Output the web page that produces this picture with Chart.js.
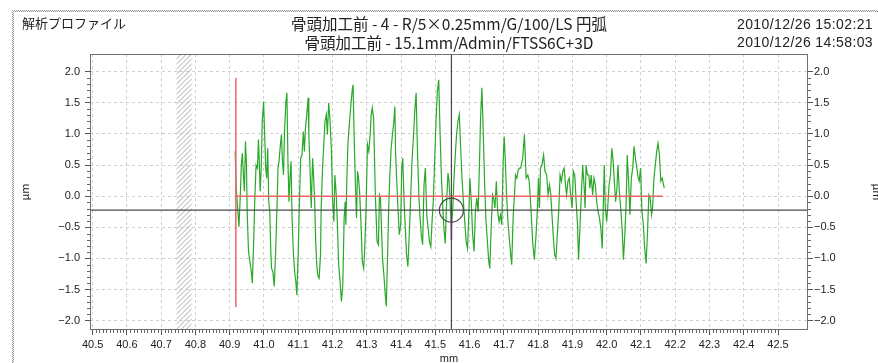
<!DOCTYPE html>
<html>
<head>
<meta charset="utf-8">
<script src="https://cdn.jsdelivr.net/npm/chart.js@4.4.1/dist/chart.umd.min.js"></script>
<style>
  html, body { margin: 0; padding: 0; background: #fff; }
  #wrap { position: relative; width: 878px; height: 363px; overflow: hidden; }
  #c { position: absolute; left: 0; top: 0; }
  .hd { position: absolute; white-space: nowrap; color: #222; line-height: 1; }
  .jp { font-family: "Noto Sans CJK JP", sans-serif; }
  .num { font-family: "Liberation Sans", Arial, sans-serif; }
</style>
</head>
<body>
<div id="wrap">
  <canvas id="c" width="878" height="363"></canvas>
  <div class="hd jp" style="left:22px; top:16px; font-size:13px;">解析プロファイル</div>
  <div class="hd jp" style="left:90px; width:718px; text-align:center; top:16px; font-size:15.5px;">骨頭加工前 - 4 - R/5×0.25mm/G/100/LS 円弧</div>
  <div class="hd jp" style="left:90px; width:718px; text-align:center; top:35px; font-size:15.5px;">骨頭加工前 - 15.1mm/Admin/FTSS6C+3D</div>
  <div class="hd num" style="left:737px; top:17px; font-size:14px; letter-spacing:0.4px;">2010/12/26 15:02:21</div>
  <div class="hd num" style="left:737px; top:35px; font-size:14px; letter-spacing:0.4px;">2010/12/26 14:58:03</div>
</div>
<script>
// Measured roughness profile (position in mm, height in µm)
const profileX = [
  40.916,40.919,40.924,40.927,40.931,40.934,40.937,40.940,40.943,40.946,
  40.949,40.951,40.955,40.959,40.963,40.966,40.970,40.973,40.977,40.981,
  40.984,40.986,40.989,40.992,40.995,40.999,41.002,41.005,41.008,41.011,
  41.014,41.017,41.020,41.022,41.026,41.030,41.034,41.038,41.041,41.044,
  41.048,41.051,41.054,41.057,41.060,41.064,41.067,41.070,41.073,41.076,
  41.079,41.082,41.086,41.090,41.093,41.096,41.100,41.103,41.107,41.111,
  41.115,41.118,41.121,41.125,41.129,41.131,41.135,41.138,41.142,41.145,
  41.148,41.151,41.154,41.157,41.161,41.165,41.167,41.171,41.174,41.178,
  41.182,41.185,41.189,41.193,41.197,41.200,41.204,41.207,41.211,41.214,
  41.218,41.222,41.226,41.230,41.234,41.237,41.239,41.242,41.245,41.249,
  41.253,41.257,41.260,41.263,41.267,41.270,41.273,41.276,41.279,41.283,
  41.287,41.291,41.294,41.298,41.302,41.306,41.310,41.313,41.316,
  41.320,41.325,41.330,41.334,41.337,41.340,41.343,41.346,41.350,41.354,
  41.357,41.361,41.364,41.367,41.371,41.375,41.379,41.382,41.384,41.388,
  41.391,41.395,41.399,41.402,41.405,41.409,41.413,41.416,41.420,41.424,
  41.428,41.432,41.436,41.440,41.444,41.448,41.452,41.455,41.459,41.463,
  41.467,41.471,41.475,41.479,41.483,41.487,41.490,41.494,41.498,41.502,
  41.506,41.510,41.514,41.518,41.522,41.525,41.529,41.533,41.537,41.540,
  41.543,41.547,41.551,41.555,41.559,41.562,41.566,41.570,41.574,41.578,
  41.582,41.586,41.590,41.594,41.597,41.601,41.605,41.609,41.613,41.617,
  41.621,41.625,41.629,41.632,41.636,41.640,41.644,41.648,41.652,41.656,
  41.659,41.663,41.667,41.670,41.674,41.678,41.682,41.686,41.690,41.694,
  41.698,41.701,41.704,41.708,41.712,41.716,41.720,41.723,41.727,41.731,
  41.734,41.738,41.741,41.745,41.749,
  41.755,41.760,41.765,41.770,41.774,41.779,41.784,41.789,41.794,41.798,
  41.801,41.804,41.807,41.811,41.816,41.820,41.825,41.829,41.833,41.837,
  41.841,41.844,41.848,41.852,41.856,41.860,41.864,41.868,41.872,41.876,
  41.880,41.883,41.887,41.891,41.895,41.899,41.903,41.907,41.911,41.915,
  41.918,41.922,41.926,41.930,41.934,41.937,41.940,41.944,41.948,41.951,
  41.955,41.959,41.963,41.967,41.971,41.975,41.979,41.983,41.987,41.990,
  41.993,41.996,42.000,42.003,42.007,42.011,42.015,42.019,42.023,42.026,
  42.030,42.033,42.037,42.041,42.045,42.049,42.053,42.057,42.060,42.064,
  42.068,42.072,42.076,42.080,42.084,42.088,42.092,42.095,42.099,42.103,
  42.107,42.111,42.115,42.119,42.123,42.127,42.131,42.134,42.138,42.142,
  42.146,42.150,42.154,42.158,42.162,42.165,42.168
];
const profileY = [
  0.72,0.13,-0.25,-0.49,0.02,0.50,0.69,0.34,0.08,0.88,
  0.50,-0.25,-0.89,-1.05,-1.21,-1.40,-0.73,-0.09,0.50,0.45,
  0.91,0.61,0.08,0.45,1.20,1.52,0.99,0.45,0.29,0.77,
  -0.09,-0.25,-0.89,-1.16,-1.21,-1.45,-0.89,-0.19,0.45,0.56,
  0.83,0.99,0.56,0.34,1.04,1.52,1.66,0.56,-0.09,0.29,
  0.56,-0.35,-0.94,-1.24,-1.37,-1.59,-0.89,-0.19,0.61,0.66,
  1.04,0.72,1.09,1.31,1.58,0.99,0.34,-0.19,0.61,0.29,
  -0.09,-0.73,-1.10,-1.27,-1.32,-0.94,-0.19,0.45,0.77,1.20,
  1.31,0.99,1.50,1.20,0.72,-0.03,-0.41,0.34,0.02,-0.41,
  -1.10,-1.37,-1.69,-1.43,-0.35,-0.09,-0.46,0.29,0.83,1.15,
  1.42,1.68,1.79,0.99,0.18,-0.35,0.40,0.29,0.08,-0.41,
  -1.05,-1.16,-0.84,-0.19,0.83,0.72,0.99,1.31,1.42,
  1.25,0.02,-0.73,-0.78,0.02,-0.03,-0.51,-1.00,-1.27,-1.59,
  -1.77,-0.89,-0.19,0.29,0.77,0.99,1.20,1.44,0.72,0.18,
  -0.19,-0.62,-0.46,0.45,0.61,-0.09,-0.57,-0.94,-1.13,-0.62,
  -0.03,0.56,0.93,1.36,1.66,0.72,0.02,-0.30,-0.62,-0.78,
  0.18,0.45,-0.30,-0.51,-0.73,-0.81,-0.46,-0.09,0.56,1.20,
  1.68,1.87,0.99,0.29,-0.19,-0.51,-0.76,-0.09,0.37,0.24,
  -0.09,-0.51,-0.19,0.34,0.72,0.99,1.20,1.31,0.77,0.29,
  -0.09,-0.41,-0.73,-0.84,-0.41,0.29,-0.09,-0.62,-0.89,-0.25,
  -0.03,-0.25,0.56,1.25,1.74,0.99,0.18,-0.41,-0.73,-1.05,
  -1.16,-0.51,0.02,-0.03,-0.19,0.24,-0.25,-0.41,-0.30,-0.46,
  0.56,0.96,0.61,0.02,-0.41,-0.68,-0.94,-1.10,-0.35,0.02,
  0.34,0.29,0.40,0.45,0.45,
  0.61,0.99,0.29,0.34,0.24,-0.19,-0.73,-1.02,-0.62,-0.19,
  0.29,-0.19,0.45,0.50,0.66,0.40,0.34,0.02,0.18,0.02,
  -0.35,-0.62,-0.94,-1.00,-0.62,-0.25,0.34,0.24,0.40,0.45,
  0.18,0.02,0.24,0.29,0.02,-0.19,0.40,0.34,-0.09,-0.46,
  -1.02,-0.51,0.02,0.50,0.18,-0.19,0.50,0.34,0.34,0.13,
  0.34,0.02,0.29,0.18,-0.09,-0.25,-0.35,-0.51,-0.84,-0.19,
  0.50,-0.19,-0.41,-0.19,0.18,0.34,0.77,0.56,0.18,-0.09,
  0.13,0.50,0.08,-0.19,-0.51,-1.02,-0.62,-0.09,0.66,0.24,
  -0.30,0.29,0.45,0.80,0.61,0.45,0.29,0.24,0.45,-0.25,
  -0.46,-0.84,-1.08,-0.62,0.02,-0.03,-0.30,-0.19,0.29,0.50,
  0.72,0.85,0.66,0.24,0.29,0.21,0.13
];

// Axis ranges and tick labels
const xMin = 40.4924, xMax = 42.5875;
const yMin = -2.15, yMax = 2.284;
const xTickValues = [40.5,40.6,40.7,40.8,40.9,41.0,41.1,41.2,41.3,41.4,41.5,41.6,41.7,41.8,41.9,42.0,42.1,42.2,42.3,42.4,42.5];
const yTickValues = [-2.0,-1.5,-1.0,-0.5,0.0,0.5,1.0,1.5,2.0];

// Evaluation range (red reference lines)
const refStartX = 40.918, refEndX = 42.164;
const refTopY = 1.90, refBottomY = -1.78, refLevelY = 0.0;

// Cursor position and highlighted point
const cursorX = 41.547, cursorY = -0.225;
const markerY = [-0.35, -0.71];

// Excluded (hatched) band
const bandStart = 40.745, bandEnd = 40.789;

const profile = profileX.map((x, i) => ({ x, y: profileY[i] }));

const decor = {
  id: 'decor',
  beforeDraw(chart) {
    const { ctx, width, height } = chart;
    ctx.save();
    ctx.fillStyle = '#fff';
    ctx.fillRect(0, 0, width, height);
    // dotted window frame
    ctx.strokeStyle = '#8c8c8c';
    ctx.lineWidth = 1;
    ctx.setLineDash([1, 1]);
    ctx.beginPath();
    ctx.moveTo(12.5, height); ctx.lineTo(12.5, 10.5); ctx.lineTo(width, 10.5);
    ctx.stroke();
    ctx.lineDashOffset = 1;
    ctx.beginPath();
    ctx.moveTo(13.5, height); ctx.lineTo(13.5, 11.5); ctx.lineTo(width, 11.5);
    ctx.stroke();
    ctx.restore();
  },
  beforeDatasetsDraw(chart) {
    const { ctx, chartArea: a, scales: { x } } = chart;
    const x0 = x.getPixelForValue(bandStart);
    const x1 = x.getPixelForValue(bandEnd);
    const h = a.bottom - a.top;
    ctx.save();
    ctx.beginPath();
    ctx.rect(x0, a.top, x1 - x0, h);
    ctx.clip();
    ctx.strokeStyle = '#a8a8a8';
    ctx.lineWidth = 1;
    ctx.beginPath();
    for (let s = x0 - h; s < x1 + 5; s += 5) {
      ctx.moveTo(s, a.bottom);
      ctx.lineTo(s + h, a.top);
    }
    ctx.stroke();
    ctx.restore();
  },
  afterDraw(chart) {
    const { ctx, chartArea: a, scales: { x, y } } = chart;
    ctx.save();
    ctx.strokeStyle = '#666';
    ctx.lineWidth = 1;
    ctx.beginPath();
    // minor ticks on the height axes (0.1 µm)
    const yFirst = yTickValues[0], yLast = yTickValues[yTickValues.length - 1];
    for (let k = Math.round(yFirst * 10); k <= Math.round(yLast * 10); k++) {
      if (k % 5 === 0) continue;
      const py = Math.round(y.getPixelForValue(k / 10)) + 0.5;
      ctx.moveTo(a.left - 3, py); ctx.lineTo(a.left, py);
      ctx.moveTo(a.right, py); ctx.lineTo(a.right + 3, py);
    }
    // minor ticks on the position axis (0.01 mm)
    const xFirst = xTickValues[0], xLast = xTickValues[xTickValues.length - 1];
    for (let k = Math.round(xFirst * 100); k <= Math.round(xLast * 100); k++) {
      if (k % 10 === 0) continue;
      const px = Math.round(x.getPixelForValue(k / 100)) + 0.5;
      ctx.moveTo(px, a.bottom); ctx.lineTo(px, a.bottom + 3);
    }
    ctx.stroke();
    // plot frame
    ctx.strokeStyle = '#707070';
    ctx.strokeRect(Math.round(a.left) + 0.5, Math.round(a.top) + 0.5,
                   Math.round(a.right - a.left) - 1, Math.round(a.bottom - a.top) - 1);
    ctx.restore();
  }
};

const tickFont = { family: 'Liberation Sans', size: 11 };
const fmtY = v => (v < -1e-9 ? '\u2212' : '') + Math.abs(v).toFixed(1);

new Chart(document.getElementById('c'), {
  type: 'scatter',
  data: {
    datasets: [
      { data: [{ x: cursorX, y: cursorY }], showLine: false, pointRadius: 12,
        pointBorderColor: '#444', pointBackgroundColor: 'rgba(0,0,0,0)', pointBorderWidth: 1.2, order: 0 },
      { data: [{ x: cursorX, y: yMin }, { x: cursorX, y: yMax }], showLine: true,
        borderColor: '#4a4a4a', borderWidth: 1.2, pointRadius: 0, order: 1 },
      { data: [{ x: xMin, y: cursorY }, { x: xMax, y: cursorY }], showLine: true,
        borderColor: '#4a4a4a', borderWidth: 1.2, pointRadius: 0, order: 1 },
      { data: [{ x: cursorX, y: markerY[0] }, { x: cursorX, y: markerY[1] }], showLine: true,
        borderColor: '#d77ad7', borderWidth: 2, pointRadius: 0, order: 2 },
      { data: [{ x: refStartX, y: refBottomY }, { x: refStartX, y: refTopY }], showLine: true,
        borderColor: '#f06464', borderWidth: 1.5, pointRadius: 0, order: 3 },
      { data: [{ x: refStartX, y: refLevelY }, { x: refEndX, y: refLevelY }], showLine: true,
        borderColor: '#f06464', borderWidth: 1.5, pointRadius: 0, order: 3 },
      { data: profile, showLine: true, borderColor: '#2aa82a', borderWidth: 1.2,
        pointRadius: 0, tension: 0, order: 5 }
    ]
  },
  options: {
    responsive: false,
    animation: false,
    devicePixelRatio: 1,
    layout: { padding: { top: 54, left: 0, right: 0, bottom: 0 } },
    plugins: { legend: { display: false }, tooltip: { enabled: false } },
    scales: {
      x: {
        type: 'linear', position: 'bottom', min: xMin, max: xMax,
        afterFit: s => { s.height = 33; },
        afterBuildTicks: s => { s.ticks = xTickValues.map(v => ({ value: v })); },
        ticks: { callback: v => v.toFixed(1), font: tickFont, color: '#222', padding: 3,
                 maxRotation: 0, autoSkip: false },
        grid: { color: '#cfcfcf', lineWidth: 1, tickLength: 5, tickColor: '#555', tickBorderDash: [] },
        border: { display: false, dash: [3, 3] },
        title: { display: true, text: 'mm', font: { family: 'Liberation Sans', size: 11, lineHeight: 1 },
                 color: '#222', padding: { top: 0, bottom: -1 } }
      },
      y: {
        type: 'linear', position: 'left', min: yMin, max: yMax,
        afterFit: s => { s.width = 90; },
        afterBuildTicks: s => { s.ticks = yTickValues.map(v => ({ value: v })); },
        ticks: { callback: fmtY, font: tickFont, color: '#222', padding: 5 },
        grid: { color: '#cfcfcf', lineWidth: 1, tickLength: 5, tickColor: '#555', tickBorderDash: [] },
        border: { display: false, dash: [3, 3] },
        title: { display: true, text: 'μm', font: { family: 'Noto Sans CJK JP', size: 11, lineHeight: 1 },
                 color: '#222', padding: { top: 19, bottom: 0 } }
      },
      y2: {
        type: 'linear', position: 'right', min: yMin, max: yMax,
        afterFit: s => { s.width = 70; },
        afterBuildTicks: s => { s.ticks = yTickValues.map(v => ({ value: v })); },
        ticks: { callback: fmtY, font: tickFont, color: '#222', padding: 1 },
        grid: { drawOnChartArea: false, tickLength: 5, tickColor: '#555', tickBorderDash: [] },
        border: { display: false },
        title: { display: true, text: 'μm', font: { family: 'Noto Sans CJK JP', size: 11, lineHeight: 1 },
                 color: '#222', padding: { top: -5, bottom: 0 } }
      }
    }
  },
  plugins: [decor]
});
</script>
</body>
</html>
